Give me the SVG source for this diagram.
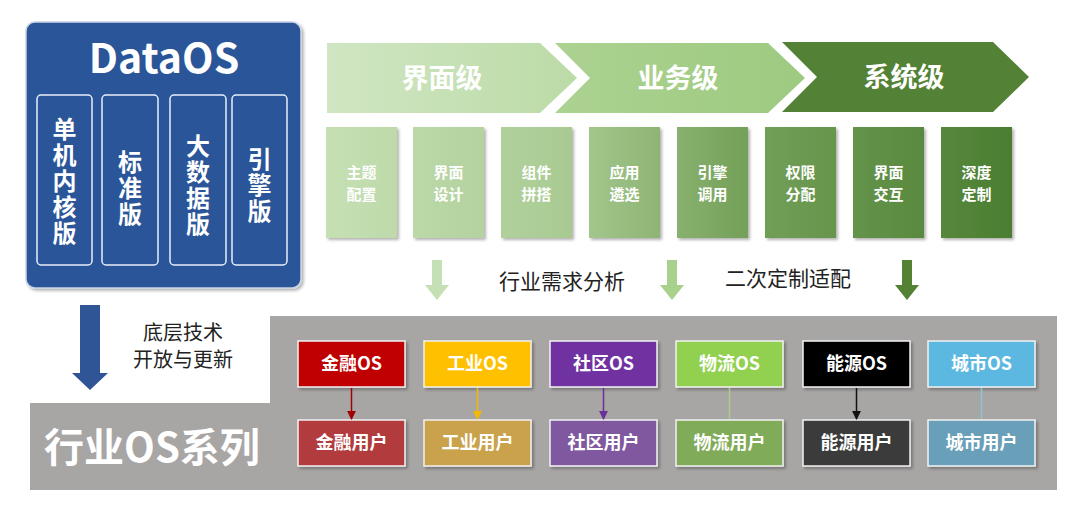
<svg xmlns="http://www.w3.org/2000/svg" width="1080" height="510" viewBox="0 0 1080 510">
<defs>
<style>
text{font-family:"Noto Sans CJK SC","Liberation Sans",sans-serif;font-weight:700;text-anchor:middle;}
.w{fill:#ffffff;}
.d{fill:#222222;font-weight:400;}
.col{fill:none;stroke:#e8eef8;stroke-width:1.5;}
.os{stroke:#f2f2f2;stroke-width:1.5;}
.ost{font-size:18px;fill:#ffffff;}
.vt{font-size:24px;fill:#ffffff;writing-mode:vertical-rl;letter-spacing:2px;}
.sb{font-size:15px;fill:#ffffff;}
</style>
<filter id="sh" x="-10%" y="-10%" width="130%" height="130%">
<feDropShadow dx="2" dy="2" stdDeviation="1.5" flood-color="#000" flood-opacity="0.3"/>
</filter>
<linearGradient id="g1" x1="0" y1="0" x2="1" y2="0">
<stop offset="0" stop-color="#d0e6c3"/><stop offset="1" stop-color="#bcdba7"/>
</linearGradient>
<linearGradient id="g2" x1="0" y1="0" x2="1" y2="0">
<stop offset="0" stop-color="#acd291"/><stop offset="1" stop-color="#9dca80"/>
</linearGradient>
<linearGradient id="gb" gradientUnits="userSpaceOnUse" x1="326" y1="0" x2="1012" y2="0">
<stop offset="0" stop-color="#c6e0b4"/>
<stop offset="0.35" stop-color="#a9cb93"/>
<stop offset="0.6" stop-color="#76a25b"/>
<stop offset="1" stop-color="#4b7e31"/>
</linearGradient>
<marker id="a1" viewBox="0 0 10 10" refX="9" refY="5" markerWidth="9" markerHeight="9" markerUnits="userSpaceOnUse" orient="auto"><path d="M0,0 L10,5 L0,10 z" fill="#a00000"/></marker>
<marker id="a2" viewBox="0 0 10 10" refX="9" refY="5" markerWidth="9" markerHeight="9" markerUnits="userSpaceOnUse" orient="auto"><path d="M0,0 L10,5 L0,10 z" fill="#f5b800"/></marker>
<marker id="a3" viewBox="0 0 10 10" refX="9" refY="5" markerWidth="9" markerHeight="9" markerUnits="userSpaceOnUse" orient="auto"><path d="M0,0 L10,5 L0,10 z" fill="#6a2f98"/></marker>
<marker id="a5" viewBox="0 0 10 10" refX="9" refY="5" markerWidth="9" markerHeight="9" markerUnits="userSpaceOnUse" orient="auto"><path d="M0,0 L10,5 L0,10 z" fill="#111111"/></marker>
</defs>
<rect width="1080" height="510" fill="#ffffff"/>

<!-- gray industry region -->
<g id="industry-bg">
<path d="M270,316 L1057,316 L1057,490 L30,490 L30,403 L270,403 Z" fill="#a8a5a5"/>
<text x="152" y="462" class="w" style="font-size:40px">行业OS系列</text>
</g>

<!-- DataOS -->
<g id="dataos">
<rect x="26" y="22" width="275" height="266" rx="9" fill="#2b5598" stroke="#c9d4e6" stroke-width="1.5" filter="url(#sh)"/>
<text x="164" y="73" class="w" style="font-size:41px">DataOS</text>
<rect x="37" y="95" width="55" height="170" rx="4" class="col"/>
<rect x="102" y="95" width="56" height="170" rx="4" class="col"/>
<rect x="170" y="95" width="56" height="170" rx="4" class="col"/>
<rect x="232" y="95" width="55" height="170" rx="4" class="col"/>
<text x="64.5" y="182" class="vt">单机内核版</text>
<text x="130" y="189" class="vt">标准版</text>
<text x="198" y="186" class="vt">大数据版</text>
<text x="259.5" y="186" class="vt">引擎版</text>
</g>

<!-- blue arrow and text -->
<g id="tech-arrow">
<path d="M80,305 L100,305 L100,373 L108,373 L90,390 L72,373 L80,373 Z" fill="#2f5597"/>
<text x="183" y="340" class="d" style="font-size:20px">底层技术</text>
<text x="183" y="367" class="d" style="font-size:20px">开放与更新</text>
</g>

<!-- chevrons -->
<g id="chevron-ui">
<path d="M327,43 L540,43 L577,78 L540,113 L327,113 Z" fill="url(#g1)"/>
<text x="442" y="88" class="w" style="font-size:27px">界面级</text>
</g>
<g id="chevron-biz">
<path d="M555,43 L768,43 L805,78 L768,113 L555,113 L590,78 Z" fill="url(#g2)"/>
<text x="678" y="88" class="w" style="font-size:27px">业务级</text>
</g>
<g id="chevron-sys">
<path d="M782,42 L993,42 L1029,77 L993,112 L782,112 L817,77 Z" fill="#538135"/>
<text x="904" y="87" class="w" style="font-size:27px">系统级</text>
</g>

<!-- small boxes -->
<g id="b1"><rect x="326" y="127" width="71" height="111" fill="url(#gb)" filter="url(#sh)"/><text class="sb"><tspan x="361.5" y="177.5">主题</tspan><tspan x="361.5" y="199.5">配置</tspan></text></g>
<g id="b2"><rect x="413" y="127" width="71" height="111" fill="url(#gb)" filter="url(#sh)"/><text class="sb"><tspan x="448.5" y="177.5">界面</tspan><tspan x="448.5" y="199.5">设计</tspan></text></g>
<g id="b3"><rect x="501" y="127" width="71" height="111" fill="url(#gb)" filter="url(#sh)"/><text class="sb"><tspan x="536.5" y="177.5">组件</tspan><tspan x="536.5" y="199.5">拼搭</tspan></text></g>
<g id="b4"><rect x="589" y="127" width="71" height="111" fill="url(#gb)" filter="url(#sh)"/><text class="sb"><tspan x="624.5" y="177.5">应用</tspan><tspan x="624.5" y="199.5">遴选</tspan></text></g>
<g id="b5"><rect x="677" y="127" width="71" height="111" fill="url(#gb)" filter="url(#sh)"/><text class="sb"><tspan x="712.5" y="177.5">引擎</tspan><tspan x="712.5" y="199.5">调用</tspan></text></g>
<g id="b6"><rect x="765" y="127" width="71" height="111" fill="url(#gb)" filter="url(#sh)"/><text class="sb"><tspan x="800.5" y="177.5">权限</tspan><tspan x="800.5" y="199.5">分配</tspan></text></g>
<g id="b7"><rect x="853" y="127" width="71" height="111" fill="url(#gb)" filter="url(#sh)"/><text class="sb"><tspan x="888.5" y="177.5">界面</tspan><tspan x="888.5" y="199.5">交互</tspan></text></g>
<g id="b8"><rect x="941" y="127" width="71" height="111" fill="url(#gb)" filter="url(#sh)"/><text class="sb"><tspan x="976.5" y="177.5">深度</tspan><tspan x="976.5" y="199.5">定制</tspan></text></g>

<!-- green down arrows and labels -->
<g id="mid-arrows">
<path d="M432,260 L442,260 L442,285 L449,285 L437,300 L425,285 L432,285 Z" fill="#c5e0b4"/>
<path d="M667,260 L677,260 L677,285 L684,285 L672,300 L660,285 L667,285 Z" fill="#a9d18e"/>
<path d="M902,260 L912,260 L912,285 L919,285 L907,300 L895,285 L902,285 Z" fill="#548235"/>
<text x="562" y="289" class="d" style="font-size:21px">行业需求分析</text>
<text x="788" y="286" class="d" style="font-size:21px">二次定制适配</text>
</g>

<!-- OS nodes -->
<g id="os-jr"><rect x="298" y="341" width="107" height="46" class="os" fill="#c00000" filter="url(#sh)"/><text x="351.5" y="370" class="ost">金融OS</text></g>
<g id="os-gy"><rect x="424" y="341" width="107" height="46" class="os" fill="#ffc000" filter="url(#sh)"/><text x="477.5" y="370" class="ost">工业OS</text></g>
<g id="os-sq"><rect x="550" y="341" width="107" height="46" class="os" fill="#7030a0" filter="url(#sh)"/><text x="603.5" y="370" class="ost">社区OS</text></g>
<g id="os-wl"><rect x="676" y="341" width="107" height="46" class="os" fill="#92d050" filter="url(#sh)"/><text x="729.5" y="370" class="ost">物流OS</text></g>
<g id="os-ny"><rect x="803" y="341" width="107" height="46" class="os" fill="#000000" filter="url(#sh)"/><text x="856.5" y="370" class="ost">能源OS</text></g>
<g id="os-cs"><rect x="928" y="341" width="107" height="46" class="os" fill="#5bb8e0" filter="url(#sh)"/><text x="981.5" y="370" class="ost">城市OS</text></g>

<g id="u-jr"><rect x="298" y="420" width="107" height="46" class="os" fill="#b13a3e" filter="url(#sh)"/><text x="351.5" y="449" class="ost">金融用户</text></g>
<g id="u-gy"><rect x="424" y="420" width="107" height="46" class="os" fill="#c9a24b" filter="url(#sh)"/><text x="477.5" y="449" class="ost">工业用户</text></g>
<g id="u-sq"><rect x="550" y="420" width="107" height="46" class="os" fill="#7f58a0" filter="url(#sh)"/><text x="603.5" y="449" class="ost">社区用户</text></g>
<g id="u-wl"><rect x="676" y="420" width="107" height="46" class="os" fill="#80ab58" filter="url(#sh)"/><text x="729.5" y="449" class="ost">物流用户</text></g>
<g id="u-ny"><rect x="803" y="420" width="107" height="46" class="os" fill="#3b3a3b" filter="url(#sh)"/><text x="856.5" y="449" class="ost">能源用户</text></g>
<g id="u-cs"><rect x="928" y="420" width="107" height="46" class="os" fill="#6a9fba" filter="url(#sh)"/><text x="981.5" y="449" class="ost">城市用户</text></g>

<!-- connectors -->
<g id="connectors" fill="none" stroke-width="1.5">
<line x1="351.5" y1="388" x2="351.5" y2="419" stroke="#a00000" marker-end="url(#a1)"/>
<line x1="477.5" y1="388" x2="477.5" y2="419" stroke="#f5b800" marker-end="url(#a2)"/>
<line x1="603.5" y1="388" x2="603.5" y2="419" stroke="#6a2f98" marker-end="url(#a3)"/>
<line x1="729.5" y1="388" x2="729.5" y2="419" stroke="#a6cf86"/>
<line x1="856.5" y1="388" x2="856.5" y2="419" stroke="#111111" marker-end="url(#a5)"/>
<line x1="981.5" y1="388" x2="981.5" y2="419" stroke="#8cc6de"/>
</g>
</svg>
